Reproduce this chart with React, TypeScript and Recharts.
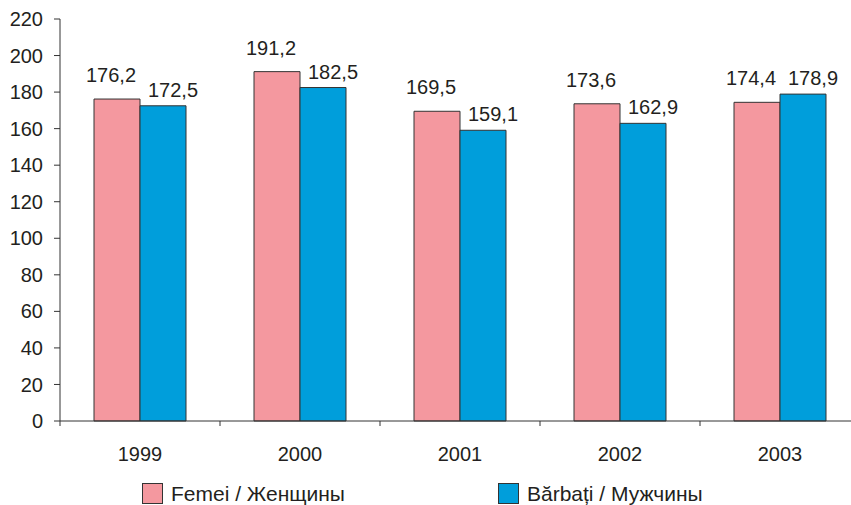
import { Bar, BarChart, LabelList, XAxis, YAxis } from "recharts"

const years = ["1999", "2000", "2001", "2002", "2003"]
const femei = [176.2, 191.2, 169.5, 173.6, 174.4]
const barbati = [172.5, 182.5, 159.1, 162.9, 178.9]
const yTicks = [0, 20, 40, 60, 80, 100, 120, 140, 160, 180, 200, 220]

const SERIES = [
  { key: "femei", name: "Femei / Женщины", color: "#F4989F", dx: -6, lift: 17, legendX: 142 },
  { key: "barbati", name: "Bărbați / Мужчины", color: "#009EDB", dx: 10, lift: 9, legendX: 498 },
] as const

const TEXT = "#231f20"
const FONT = "'Liberation Sans', Arial, sans-serif"

const data = years.map((year, i) => ({
  year,
  femei: femei[i],
  barbati: barbati[i],
}))

const fmt = (v: number) => v.toFixed(1).replace(".", ",")

function makeLabel(dx: number, lift: number) {
  return (props: any) => {
    const { x, y, width, value } = props
    return (
      <text
        x={Number(x) + Number(width) / 2 + dx}
        y={Number(y) - lift}
        textAnchor="middle"
        fontSize={20}
        fill={TEXT}
        fontFamily={FONT}
      >
        {fmt(Number(value))}
      </text>
    )
  }
}

// category ticks sit on the band boundaries, labels in the middle
function YearTick(props: any) {
  const { x, y, payload } = props
  const left = x - (payload?.offset ?? 0)
  return (
    <g>
      <line x1={left} x2={left} y1={y} y2={y + 5} stroke="#333" />
      <text x={x} y={y + 40} textAnchor="middle" fontSize={20} fill={TEXT} fontFamily={FONT}>
        {payload.value}
      </text>
    </g>
  )
}

export default function App() {
  return (
    <div
      style={{
        position: "absolute",
        left: 0,
        top: 0,
        width: 851,
        height: 505,
        overflow: "hidden",
        background: "#fff",
        fontFamily: FONT,
      }}
    >
      <BarChart
        width={870}
        height={505}
        data={data}
        margin={{ top: 19, right: 10, bottom: 44, left: 0 }}
        barGap={0}
        barSize={46}
      >
        <XAxis
          dataKey="year"
          axisLine={{ stroke: "#333" }}
          tickLine={false}
          tickSize={0}
          tickMargin={0}
          height={40}
          tick={<YearTick />}
          interval={0}
        />
        <YAxis
          width={60}
          domain={[0, 220]}
          ticks={yTicks}
          interval={0}
          axisLine={{ stroke: "#333" }}
          tickLine={{ stroke: "#333" }}
          tickSize={6}
          tickMargin={11}
          tick={{ fontSize: 20, fill: TEXT, fontFamily: FONT }}
        />
        {SERIES.map((s) => (
          <Bar
            key={s.key}
            dataKey={s.key}
            name={s.name}
            fill={s.color}
            stroke="#333"
            strokeWidth={1}
            isAnimationActive={false}
          >
            <LabelList dataKey={s.key} content={makeLabel(s.dx, s.lift)} />
          </Bar>
        ))}
      </BarChart>
      {SERIES.map((s) => (
        <div
          key={s.key}
          style={{
            position: "absolute",
            left: s.legendX,
            top: 483,
            height: 21,
            display: "flex",
            alignItems: "center",
            fontSize: 21,
            color: TEXT,
            whiteSpace: "nowrap",
          }}
        >
          <span
            style={{
              display: "inline-block",
              width: 19,
              height: 19,
              background: s.color,
              border: "1px solid #333",
              marginRight: 8,
            }}
          />
          {s.name}
        </div>
      ))}
    </div>
  )
}
